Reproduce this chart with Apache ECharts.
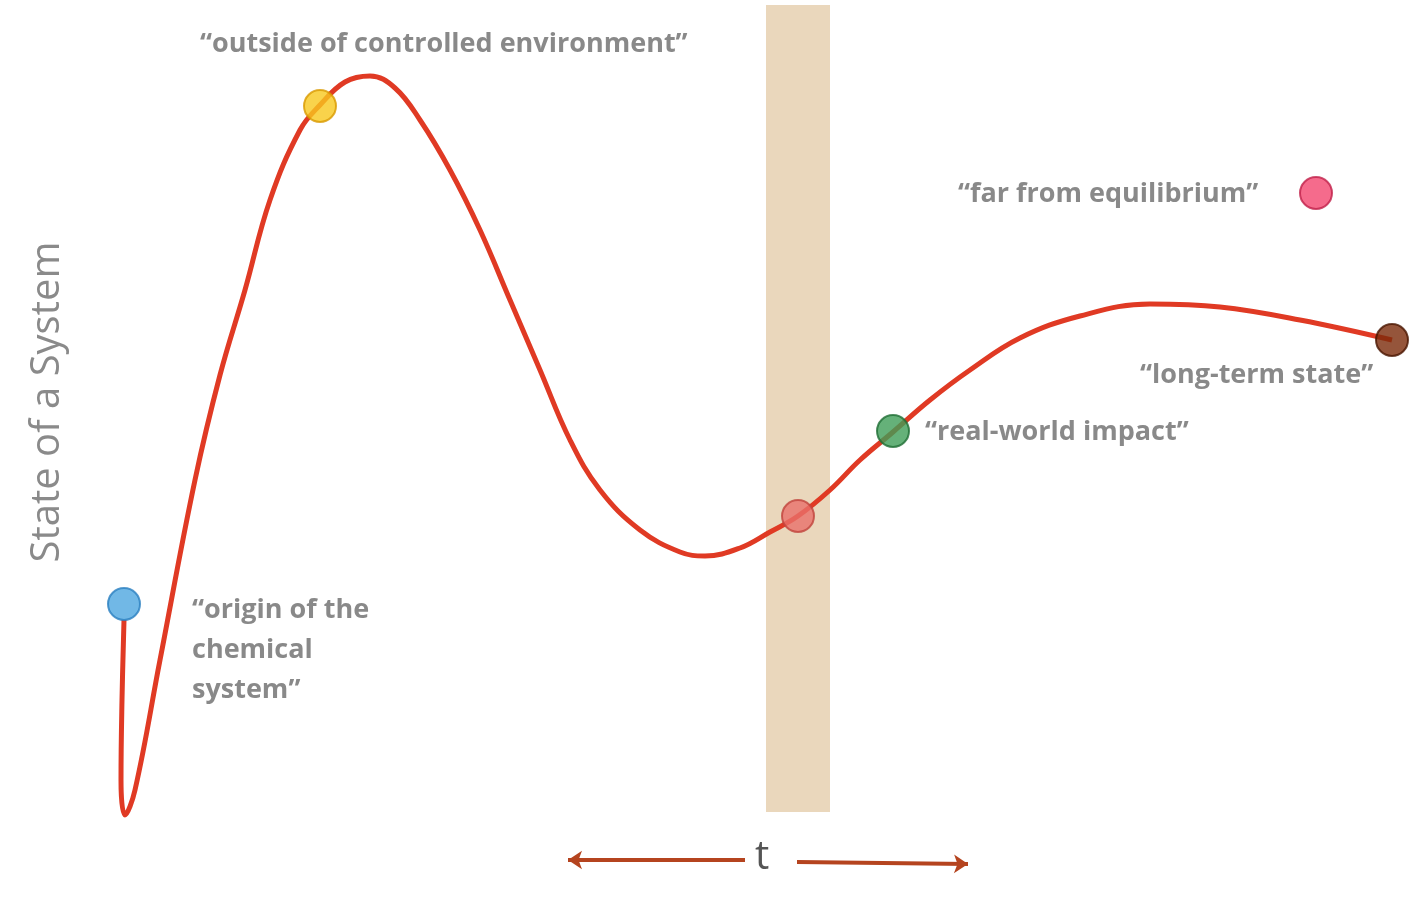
<!DOCTYPE html><html><head><meta charset="utf-8">
<script src="https://cdn.jsdelivr.net/npm/echarts@6/dist/echarts.min.js"></script>
<style>html,body{margin:0;background:#fff}#c{width:1417px;height:919px}</style></head><body><div id="c"></div>
<script>
const curveX=[124,122,121,125,135,160,195,220,245,270,300,320,345,370,395,420,450,480,510,540,570,600,640,680,705,740,770,798,830,860,893,930,970,1020,1080,1150,1220,1300,1392];
const curveY=[620,700,780,815,790,660,480,375,290,200,130,105,82,76,88,120,170,230,300,370,440,490,530,552,556,548,532,516,490,460,432,400,370,338,316,304,307,320,340];
const ptX=[124,320,798,893,1316,1392];
const ptY=[604,106,516,431,193,340];
const ptColors=['#4da6e0','#f7c81e','#e8716a','#3e9d58','#f2466f','#7a2a0a'];
const ptBorders=['#2a7fc0','#d99a00','#c0443c','#1f6e35','#c0204a','#4a1500'];
const labels=['“origin of the\nchemical\nsystem”','“outside of controlled environment”','','“real-world impact”','“far from equilibrium”','“long-term state”'];
const labelX=[192,200,0,925,958,1140];
const labelY=[612,44,0,432,194,375];
const band=[766,830,5,812];
const c=echarts.init(document.getElementById('c'));
const font='"Open Sans", "Liberation Sans", sans-serif';
c.setOption({
 animation:false,
 grid:{left:0,right:0,top:0,bottom:0},
 xAxis:{type:'value',min:0,max:1417,show:false},
 yAxis:{type:'value',min:0,max:919,inverse:true,show:false},
 series:[
  {type:'line',data:curveX.map((x,i)=>[x,curveY[i]]),smooth:0.4,showSymbol:false,
   lineStyle:{color:'#e03a24',width:5},z:3,
   markArea:{silent:true,itemStyle:{color:'#ead7bc'},data:[[{coord:[band[0],band[2]]},{coord:[band[1],band[3]]}]]}},
  {type:'scatter',z:5,symbolSize:32,data:ptX.map((x,i)=>({value:[x,ptY[i]],itemStyle:{color:ptColors[i],borderColor:ptBorders[i],borderWidth:2}}))},
  {type:'scatter',z:6,symbolSize:0,data:labelX.map((x,i)=>({value:[x,labelY[i]],
   label:{show:!!labels[i],formatter:labels[i],position:'inside',align:'left',verticalAlign:i==0?'top':'middle',
   offset:[0,i==0?-22:0],fontFamily:font,fontWeight:'bold',fontSize:27,color:'#6b6b6b',lineHeight:40}}))},
  {type:'lines',coordinateSystem:'cartesian2d',z:4,symbol:['none','arrow'],symbolSize:14,
   lineStyle:{color:'#b5441f',width:4,opacity:1},
   data:[{coords:[[745,860],[568,860]]},{coords:[[797,862],[968,864]]}]}
 ],
 graphic:[
  {type:'text',left:755,top:838,style:{text:'t',font:'40px '+font,fill:'#555'}},
  {type:'text',x:800,y:285,rotation:Math.PI/2,style:{text:'Measurable Window(s)',font:'32px '+font,fill:'#444',align:'center',verticalAlign:'middle'}},
  {type:'text',x:48,y:402,rotation:Math.PI/2,style:{text:'State of a System',font:'40px '+font,fill:'#8a8a8a',align:'center',verticalAlign:'middle'}}
 ]
});
</script></body></html>
